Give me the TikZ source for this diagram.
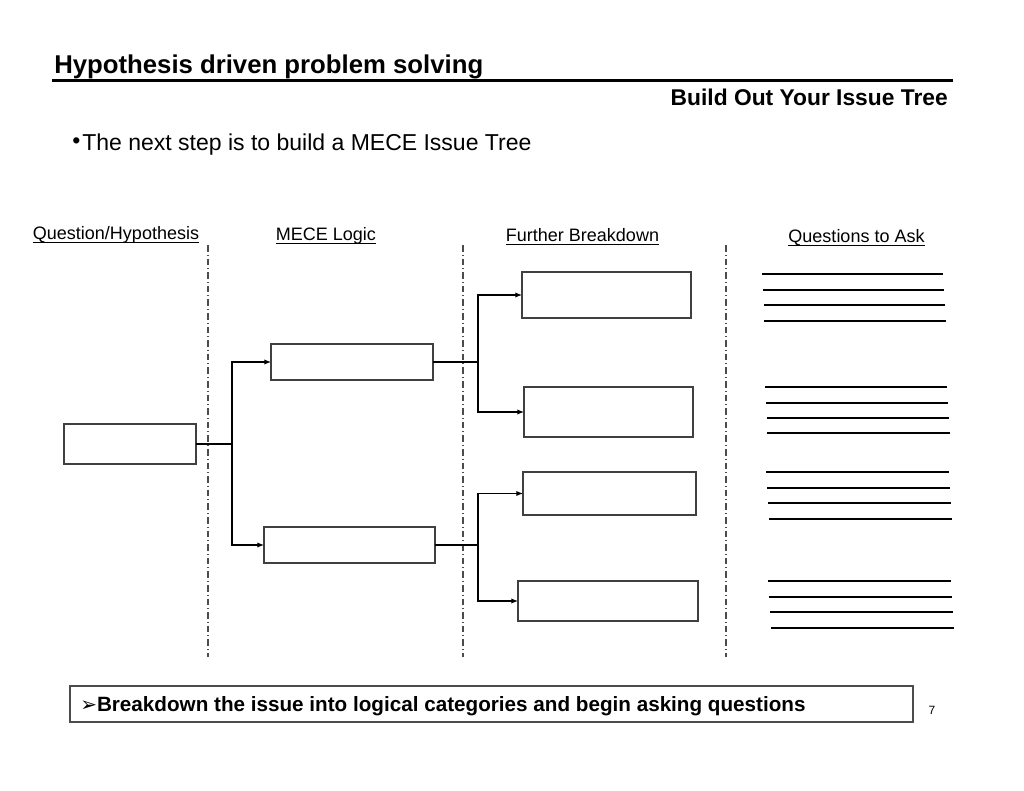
\documentclass[tikz,border=0pt]{standalone}
\usepackage{fontspec}
\setmainfont{Liberation Sans}
\newfontfamily\dejavu{DejaVu Sans}
\usetikzlibrary{arrows.meta}

\tikzset{
  box/.style={draw=black!75,line width=0.9pt,fill=white,inner sep=0pt,outer sep=0pt},
  conn/.style={line width=0.9pt,-{Latex[length=5pt,width=4pt]}},
  sep/.style={black!70,line width=0.8pt,dash pattern=on 5pt off 2.2pt on 0.8pt off 2.2pt},
  head/.style={anchor=base,inner sep=0pt,font=\fontsize{13.5pt}{15pt}\selectfont},
  answer/.style={line width=0.9pt}
}

\begin{document}
\begin{tikzpicture}[x=0.75pt,y=-0.75pt]
\useasboundingbox (0,0) rectangle (1024,791);

% heading
\node[anchor=base west,inner sep=0pt,font=\fontsize{19.3pt}{22pt}\selectfont\bfseries] (title) at (54,74) {Hypothesis driven problem solving};
\draw[line width=1.8pt] (52,80.5) -- (953,80.5);
\node[anchor=base east,inner sep=0pt,font=\fontsize{17.1pt}{20pt}\selectfont\bfseries] (subtitle) at (948,106) {Build Out Your Issue Tree};
\node[anchor=base west,inner sep=0pt,font=\fontsize{17.25pt}{20pt}\selectfont] (intro) at (72,151) {\raisebox{2pt}{•}\hspace{1.5pt}The next step is to build a MECE Issue Tree};

% column heads
\node[head] (hq) at (116,240) {Question/Hypothesis};
\node[head] (hm) at (326,241) {MECE Logic};
\node[head] (hf) at (582.5,242) {Further Breakdown};
\node[head] (ha) at (856.5,243) {Questions to Ask};
\foreach \h in {hq,hm,hf,ha}
  \draw[line width=0.6pt] ([yshift=-1.6pt]\h.base west) -- ([yshift=-1.6pt]\h.base east);

\foreach \x in {208,463,726}
  \draw[sep] (\x,245) -- (\x,657);

% tree
\node[box,minimum width=99pt,minimum height=30pt] (q) at (130,444) {};

\node[box,minimum width=121.5pt,minimum height=27pt] (m1) at (352,362) {};
\node[box,minimum width=128.25pt,minimum height=27pt] (m2) at (349.5,545) {};

\node[box,minimum width=126.75pt,minimum height=34.5pt] (f1) at (606.5,295) {};
\node[box,minimum width=126.75pt,minimum height=37.5pt] (f2) at (608.5,412) {};
\node[box,minimum width=129.75pt,minimum height=32.25pt] (f3) at (609.5,493.5) {};
\node[box,minimum width=135pt,minimum height=30pt] (f4) at (608,601) {};

\coordinate (jq) at (232,444);
\coordinate (j1) at (478,362);
\coordinate (j2) at (478,545);

\draw[line width=0.9pt] (q.east) -- (jq);
\draw[conn] (jq) |- (m1.west);
\draw[conn] (jq) |- (m2.west);

\draw[line width=0.9pt] (m1.east) -- (j1);
\draw[conn] (j1) |- (f1.west);
\draw[conn] (j1) |- (f2.west);

\draw[line width=0.9pt] (m2.east) -- (j2);
\draw[conn] (j2) |- (f3.west);
\draw[conn] (j2) |- (f4.west);

% lines for questions
\foreach \y/\xa/\xb in {274/762/943,290/763/944,305/764/945,321/764/946,
                         387/765/947,403/766/948,418/767/949,433/767/950,
                         472/766/949,488/767/950,503/768/951,519/769/952,
                         581/768/951,597/769/952,612/770/953,628/771/954}
  \draw[answer] (\xa,\y) -- (\xb,\y);

% takeaway
\node[draw=black!70,line width=1pt,inner sep=0pt,minimum width=632.25pt,minimum height=27pt] (note) at (491.5,704) {};
\node[anchor=base west,inner sep=0pt,font=\fontsize{15.5pt}{18pt}\selectfont\bfseries] (notetext) at (80,711) {{\dejavu\fontsize{15pt}{17pt}\selectfont ➢}Breakdown the issue into logical categories and begin asking questions};
\node[anchor=base,inner sep=0pt,font=\fontsize{9pt}{10pt}\selectfont] (page) at (932,714) {7};

\end{tikzpicture}
\end{document}
